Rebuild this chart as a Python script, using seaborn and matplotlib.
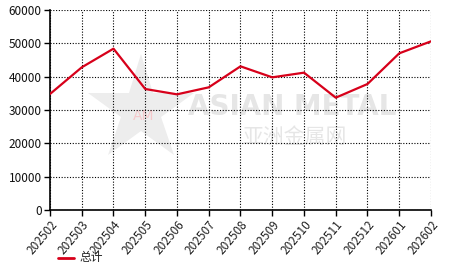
import matplotlib
matplotlib.use("Agg")
import matplotlib.pyplot as plt
import seaborn as sns
import pandas as pd

months = ["202502", "202503", "202504", "202505", "202506", "202507", "202508",
          "202509", "202510", "202511", "202512", "202601", "202602"]
totals = [34800, 42800, 48400, 36300, 34700, 36800, 43100,
          39800, 41200, 33700, 37800, 47000, 50600]
yticks = [0, 10000, 20000, 30000, 40000, 50000, 60000]
series_name = "总计"

sns.set_theme(style="white")
plt.rcParams['font.family'] = ['Noto Sans CJK SC', 'DejaVu Sans']

df = pd.DataFrame({"month": months, "value": totals, "series": series_name})
df["x"] = range(len(months))

fig = plt.figure(figsize=(4.66, 2.72), dpi=100)
ax = fig.add_axes([50/466, 1 - 210/272, (431-50)/466, 200/272])

# watermark
ax.plot([0.24], [0.50], marker="*", markersize=80, color="#ededed",
        transform=ax.transAxes, zorder=0, markeredgewidth=0)
ax.text(0.245, 0.47, "AM", transform=ax.transAxes, fontsize=10,
        color="#f6c9cc", ha="center", va="center", zorder=0, family="DejaVu Sans")
ax.text(0.635, 0.515, "ASIAN METAL", transform=ax.transAxes, fontsize=20,
        color="#e6e6e6", ha="center", va="center", zorder=0, fontweight="bold",
        family="DejaVu Sans")
ax.text(0.64, 0.365, "亚洲金属网", transform=ax.transAxes, fontsize=15,
        color="#e6e6e6", ha="center", va="center", zorder=0)

sns.lineplot(data=df, x="x", y="value", hue="series", palette=["#d7001a"],
             linewidth=1.6, ax=ax, legend=False, zorder=3)

ax.set_xlim(0, len(months) - 1)
ax.set_ylim(0, 60000)
ax.set_xticks(range(len(months)))
ax.set_xticklabels(months, rotation=50, ha="right", rotation_mode="anchor",
                   fontsize=8.5, color="#222222")
ax.set_yticks(yticks)
ax.set_yticklabels([str(v) for v in yticks], fontsize=8.5, color="#111111")
ax.set_xlabel("")
ax.set_ylabel("")
ax.grid(True, linestyle=(0, (1, 1.5)), color="black", linewidth=0.8)
ax.set_axisbelow(True)
for s in ["top", "right"]:
    ax.spines[s].set_visible(False)
for s in ["left", "bottom"]:
    ax.spines[s].set_color("black")
    ax.spines[s].set_linewidth(1.2)
ax.tick_params(axis="both", which="both", length=4, width=1, color="black",
               direction="out", pad=2, left=True, bottom=True)

# legend
fig.lines.append(plt.Line2D([58/466, 74/466], [1 - 258/272, 1 - 258/272],
                            color="#d7001a", linewidth=2, transform=fig.transFigure))
fig.text(79/466, 1 - 258/272, series_name, fontsize=8.5, va="center", ha="left",
         color="#222222")

fig.savefig("out.png", dpi=100)
